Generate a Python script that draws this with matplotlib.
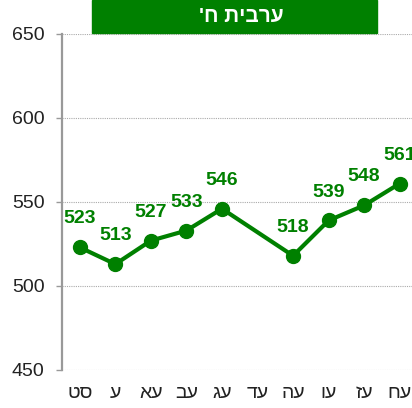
import numpy as np
import matplotlib
matplotlib.use("Agg")
import matplotlib.pyplot as plt
from matplotlib.patches import Rectangle

plt.rcParams['font.family'] = ['Liberation Sans', 'DejaVu Sans']

title = "ערבית ח'"
categories = ["סט", "ע", "עא", "עב", "עג", "עד", "עה", "עו", "עז", "עח"]
values = [523, 513, 527, 533, 546, None, 518, 539, 548, 561]
yticks = [450, 500, 550, 600, 650]

GREEN = "#008000"

def rtl(s):
    return s[::-1]

fig = plt.figure(figsize=(4.12, 4.08), dpi=100)
ax = fig.add_axes([62/412, 38/408, 355.5/412, 336/408])

x = np.arange(len(categories))
mask = [v is not None for v in values]
xs = x[mask]
ys = np.array([v for v in values if v is not None], dtype=float)

ax.plot(xs, ys, color=GREEN, linewidth=3, marker='o', markersize=10,
        zorder=3, clip_on=False)
for xi, yi in zip(xs, ys):
    ax.annotate(f"{int(yi)}", (xi, yi), xytext=(0, 20.5), textcoords='offset points',
                ha='center', va='center', color=GREEN, fontsize=14,
                fontweight='bold', annotation_clip=False)

ax.set_xlim(-0.5, len(categories) - 0.5)
ax.set_ylim(450, 650)
ax.set_yticks(yticks)
ax.set_xticks(x)
ax.set_xticklabels([rtl(c) for c in categories])

ax.grid(axis='y', linestyle=(0, (1, 1)), color='#aaaaaa', linewidth=0.8)
ax.set_axisbelow(True)
for s in ['top', 'right', 'bottom']:
    ax.spines[s].set_visible(False)
ax.spines['left'].set_color('#999999')
ax.spines['left'].set_linewidth(1.6)

ax.tick_params(axis='y', length=4, color='#999999', width=1, pad=8.5,
               labelsize=14, labelcolor='#222222')
ax.tick_params(axis='x', length=0, pad=11, labelsize=14, labelcolor='#222222')

fig.patches.append(Rectangle((92/412, 375/408), 285/412, 33/408,
                             transform=fig.transFigure, color=GREEN, zorder=5))
fig.text(241/412, (408-16)/408, rtl(title), ha='center', va='center',
         color='white', fontsize=15, fontweight='bold', zorder=6)

fig.savefig("out.png", dpi=100)
